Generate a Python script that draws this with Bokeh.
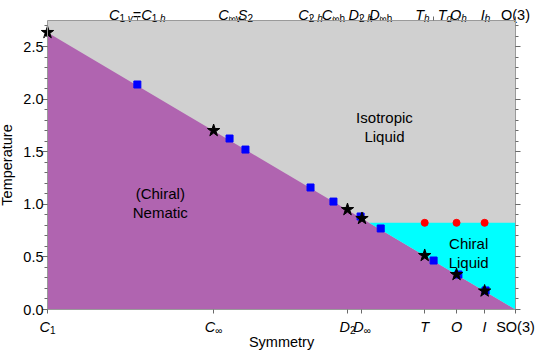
import numpy as np
from bokeh.plotting import figure
from bokeh.models import (Label, LinearAxis, FixedTicker, SingleIntervalTicker, Range1d,
                          PrintfTickFormatter)
from bokeh.embed import file_html
from bokeh.resources import INLINE

# ---------------- data ----------------
boundary_x = [0.0, 1.0]          # nematic / isotropic boundary (C1 ... SO(3))
boundary_T = [2.636, 0.0]
chiral_liquid_T = 0.825          # upper limit of the chiral liquid

bottom_groups = ["C1", "Cinf", "D2", "Dinf", "T", "O", "I", "SO3"]
bottom_x = [0.0, 0.355, 0.641, 0.672, 0.806, 0.874, 0.934, 1.0]
top_groups = ["C1v=C1h", "Cinfv", "S2", "C2h", "Cinfh", "D2h", "Dinfh", "ThTd", "Oh", "Ih", "O3"]
top_x = [0.192, 0.389, 0.423, 0.562, 0.611, 0.669, 0.712, 0.825, 0.878, 0.936, 1.0]

star_x = [0.0, 0.355, 0.641, 0.672, 0.806, 0.874, 0.934]
star_T = [2.636, 1.703, 0.951, 0.866, 0.514, 0.333, 0.176]
square_x = [0.192, 0.389, 0.423, 0.562, 0.611, 0.669, 0.712, 0.825, 0.878, 0.936]
square_T = [2.141, 1.627, 1.522, 1.161, 1.027, 0.885, 0.771, 0.466, 0.333, 0.181]
red_x = [0.806, 0.874, 0.934]
red_T = [0.825, 0.825, 0.825]

y_tick_step = 0.5
x_min, x_max = 0.0, 1.0
y_min, y_max = 0.0, 2.75

region_text = ["Isotropic", "Liquid", "(Chiral)", "Nematic", "Chiral", "Liquid"]
region_x = [0.72, 0.72, 0.241, 0.241, 0.90, 0.90]
region_y = [1.827, 1.646, 1.104, 0.923, 0.628, 0.447]

# label pieces: (text, subscript?, italic?)
parts = {
    "C1": [("C", 0, 1), ("1", 1, 0)],
    "Cinf": [("C", 0, 1), ("\u221e", 1, 0)],
    "D2": [("D", 0, 1), ("2", 1, 0)],
    "Dinf": [("D", 0, 1), ("\u221e", 1, 0)],
    "T": [("T", 0, 1)],
    "O": [("O", 0, 1)],
    "I": [("I", 0, 1)],
    "SO3": [("SO(3)", 0, 0)],
    "C1v=C1h": [("C", 0, 1), ("1 ", 1, 0), ("v", 1, 1), ("=", 0, 0), ("C", 0, 1), ("1 ", 1, 0), ("h", 1, 1)],
    "Cinfv": [("C", 0, 1), ("\u221ev", 1, 0)],
    "S2": [("S", 0, 1), ("2", 1, 0)],
    "C2h": [("C", 0, 1), ("2 ", 1, 0), ("h", 1, 1)],
    "Cinfh": [("C", 0, 1), ("\u221eh", 1, 0)],
    "D2h": [("D", 0, 1), ("2 ", 1, 0), ("h", 1, 1)],
    "Dinfh": [("D", 0, 1), ("\u221eh", 1, 0)],
    "ThTd": [("T", 0, 1), ("h", 1, 1), ("  ", 0, 0), ("T", 0, 1), ("d", 1, 1)],
    "Oh": [("O", 0, 1), ("h", 1, 1)],
    "Ih": [("I", 0, 1), ("h", 1, 1)],
    "O3": [("O(3)", 0, 0)],
}

# ---------------- layout / style ----------------
W_TOTAL, H_TOTAL = 535, 353
LEFT, RIGHT, TOP, BOTTOM = 47, 20, 20, 44     # margins around the plotting box
BOX_W = W_TOTAL - LEFT - RIGHT
BOX_H = H_TOTAL - TOP - BOTTOM
xs = (x_max - x_min) / BOX_W
ys = (y_max - y_min) / BOX_H

FONT = "Liberation Sans"
MAIN = 14.5
SUB = 10.0
W = {"C": .722, "D": .722, "T": .611, "O": .778, "I": .278, "S": .667, "(": .333, ")": .333,
     "3": .556, "1": .556, "2": .556, "=": .584, "\u221e": .713, " ": .278, "v": .5, "h": .556, "d": .556}
FRAME = "#9a9a9a"
TICK = "#6a6a6a"
MAJ, MINR = 5, 3

p = figure(width=W_TOTAL, height=H_TOTAL,
           x_range=Range1d(x_min - LEFT * xs, x_max + RIGHT * xs),
           y_range=Range1d(y_min - BOTTOM * ys, y_max + TOP * ys),
           output_backend="svg", toolbar_location=None,
           min_border=0, min_border_left=0, min_border_right=0,
           min_border_top=0, min_border_bottom=0,
           background_fill_color="white", border_fill_color="white")
p.grid.visible = False
p.outline_line_color = None

# regions
p.quad(left=[x_min], right=[x_max], bottom=[y_min], top=[y_max], fill_color="#d0d0d0", line_color=None)
tri_x = [boundary_x[0], boundary_x[0], boundary_x[1]]
tri_y = [0.0, boundary_T[0], boundary_T[1]]
p.patch(tri_x, tri_y, fill_color="#b064b0", line_color=None)
x_int = float(np.interp(chiral_liquid_T, boundary_T[::-1], boundary_x[::-1]))
p.patch([x_int, boundary_x[1], boundary_x[1]], [chiral_liquid_T, chiral_liquid_T, 0.0],
        fill_color="#00ffff", line_color=None)

p.scatter(red_x, red_T, marker="circle", size=7, color="#ff0000")
p.scatter(square_x, square_T, marker="square", size=7, color="#0000ff")
p.scatter(star_x, star_T, marker="star", size=13, color="black")

for t, x, y in zip(region_text, region_x, region_y):
    p.add_layout(Label(x=x, y=y, text=t, text_align="center", text_baseline="alphabetic",
                       text_font=FONT, text_font_size="15px", text_color="black"))

# the axes sit at fixed data locations on the box edges; for such axes the
# "out" tick direction points into the plotting box
def style_axis(ax, labels=True):
    ax.level = "overlay"
    ax.axis_line_color = FRAME
    ax.major_tick_line_color = TICK
    ax.minor_tick_line_color = TICK
    ax.major_tick_in = 0
    ax.major_tick_out = MAJ
    ax.minor_tick_in = 0
    ax.minor_tick_out = MINR
    ax.axis_label_text_font = FONT
    ax.axis_label_text_font_style = "normal"
    ax.axis_label_text_font_size = "14.5px"
    ax.axis_label_text_color = "black"
    ax.major_label_text_font = FONT
    ax.major_label_text_font_size = "14.5px"
    ax.major_label_text_color = "black"
    if not labels:
        ax.major_label_text_font_size = "0px"
        ax.major_label_text_color = None
        ax.major_label_standoff = 0

# left
yax = p.yaxis[0]
yax.fixed_location = x_min
yax.bounds = (y_min, y_max)
yax.ticker = SingleIntervalTicker(interval=y_tick_step, num_minor_ticks=5)
yax.formatter = PrintfTickFormatter(format="%.1f")
style_axis(yax)
yax.major_label_standoff = 4 - MAJ
yax.axis_label = "Temperature"
yax.axis_label_standoff = 5

# right
rax = LinearAxis(ticker=SingleIntervalTicker(interval=y_tick_step, num_minor_ticks=5),
                 fixed_location=x_max, bounds=(y_min, y_max))
style_axis(rax, labels=False)
p.add_layout(rax, "right")

# bottom (ticks only; group labels drawn as composite labels)
xax = p.xaxis[0]
xax.fixed_location = y_min
xax.bounds = (x_min, x_max)
xax.ticker = FixedTicker(ticks=bottom_x, minor_ticks=[])
style_axis(xax, labels=False)
xax.major_tick_out = 4
xax.axis_label = "Symmetry"
xax.axis_label_standoff = 24 - 4

# top
tax = LinearAxis(ticker=FixedTicker(ticks=top_x, minor_ticks=[]),
                 fixed_location=y_max, bounds=(x_min, x_max))
style_axis(tax, labels=False)
tax.major_tick_out = 4
p.add_layout(tax, "above")

def composite(name, x, y_screen):
    segs = parts[name]
    widths = [sum(W.get(c, .556) for c in s) * (SUB if sub else MAIN) for s, sub, it in segs]
    total = sum(widths)
    cur = -total / 2.0
    for (s, sub, it), w in zip(segs, widths):
        p.add_layout(Label(x=x, y=y_screen - (3.5 if sub else 0), y_units="screen", x_offset=cur,
                           text=s, text_align="left", text_baseline="alphabetic",
                           text_font=FONT, text_font_size=f"{SUB if sub else MAIN}px",
                           text_font_style="italic" if it else "normal", text_color="black"))
        cur += w

for g, x in zip(top_groups, top_x):
    composite(g, x, H_TOTAL - 14)
for g, x in zip(bottom_groups, bottom_x):
    composite(g, x, H_TOTAL - 326)

open("out.html", "w").write(file_html(p, INLINE))
